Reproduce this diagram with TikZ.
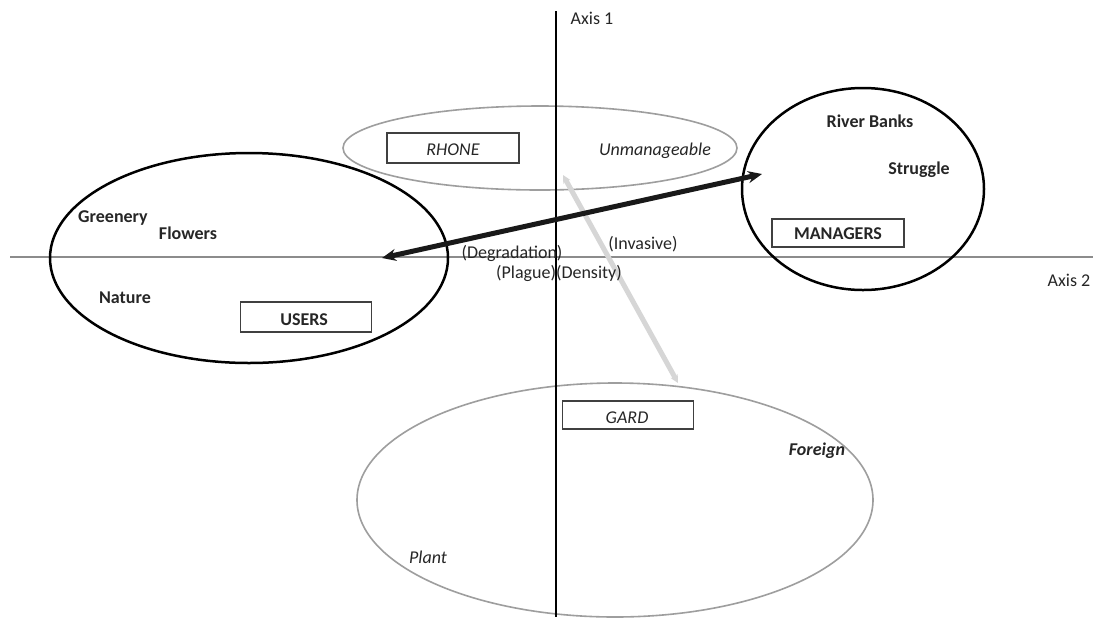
\documentclass[tikz,border=0pt]{standalone}
\usepackage{fontspec}
\setmainfont{Carlito}
\usetikzlibrary{shapes.geometric,arrows.meta}
\begin{document}
\begin{tikzpicture}[x=0.5pt,y=-0.5pt,
  txt/.style={font=\fontsize{9}{10}\selectfont, text=black!85, inner sep=0pt},
  btxt/.style={txt, font=\fontsize{9}{10}\selectfont\bfseries},
  itxt/.style={txt, font=\fontsize{9}{10}\selectfont\itshape},
  bitxt/.style={txt, font=\fontsize{9}{10}\selectfont\bfseries\itshape},
  catbox/.style={draw=black!75, line width=0.6pt, inner sep=0pt},
  blackring/.style={ellipse, draw=black, line width=1.25pt, inner sep=0pt},
  grayring/.style={ellipse, draw=black!38, line width=0.8pt, inner sep=0pt},
  haxis/.style={draw=black!45, line width=1pt},
  vaxis/.style={draw=black, line width=0.75pt},
  strongarrow/.style={draw=black!90, line width=2.5pt, {Stealth[length=7pt,width=6pt]}-{Stealth[length=7pt,width=6pt]}},
  weakarrow/.style={draw=black!16, line width=2.5pt, {Stealth[length=4pt,width=4pt]}-{Stealth[length=4pt,width=4pt]}}
]
\useasboundingbox[fill=white] (0,0) rectangle (1093,617);

% axes
\coordinate (xl) at (10,257);
\coordinate (xr) at (1093,257);
\coordinate (yt) at (556,11);
\coordinate (yb) at (556,617);
\draw[haxis] (xl) -- (xr);

% ellipses
\node[grayring, minimum width=197pt, minimum height=42pt] (rhoneE) at (540,148) {};
\node[grayring, minimum width=258pt, minimum height=117pt] (gardE) at (615,500) {};
\node[blackring, minimum width=199pt, minimum height=105pt] (usersE) at (249,258) {};
\node[blackring, minimum width=121pt, minimum height=101pt] (managersE) at (863,189) {};

\draw[vaxis] (yt) -- (yb);

% arrows
\coordinate (wa1) at (563,175);
\coordinate (wa2) at (678,383);
\draw[weakarrow] (wa1) -- (wa2);
\coordinate (sa1) at (382,258);
\coordinate (sa2) at (762,174);
\draw[strongarrow] (sa1) -- (sa2);

% boxes
\node[catbox, minimum width=66pt, minimum height=15pt] (rhoneB) at (453,148) {};
\node[itxt] (rhoneT) at (453,150) {RHONE};
\node[catbox, minimum width=65.5pt, minimum height=15pt] (usersB) at (306,317) {};
\node[btxt] (usersT) at (304,320) {USERS};
\node[catbox, minimum width=66pt, minimum height=14pt] (managersB) at (838,233) {};
\node[btxt] (managersT) at (838,234) {MANAGERS};
\node[catbox, minimum width=65.5pt, minimum height=14pt] (gardB) at (628,415) {};
\node[itxt] (gardT) at (627,418) {GARD};

% labels
\node[txt] (ax1) at (592,18) {Axis 1};
\node[txt] (ax2) at (1069,280) {Axis 2};
\node[btxt] (greenery) at (113,218) {Greenery};
\node[btxt] (flowers) at (188,233) {Flowers};
\node[btxt] (nature) at (125,298) {Nature};
\node[btxt] (riverbanks) at (870,121) {River Banks};
\node[btxt] (struggle) at (919,170) {Struggle};
\node[itxt] (unman) at (655,151) {Unmanageable};
\node[txt] (degr) at (512,253) {(Degradation)};
\node[txt] (inv) at (643,244) {(Invasive)};
\node[txt] (plague) at (559,273) {(Plague)(Density)};
\node[bitxt] (foreign) at (817,451) {Foreign};
\node[itxt] (plant) at (428,557) {Plant};
\end{tikzpicture}
\end{document}
